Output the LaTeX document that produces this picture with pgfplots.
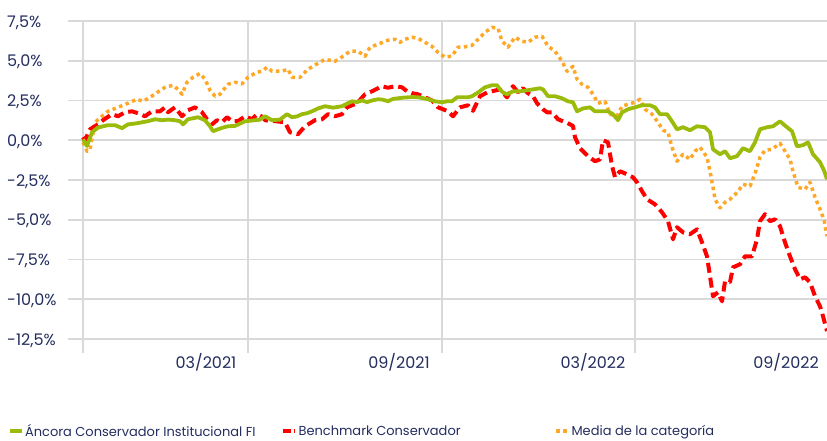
\documentclass[border=0pt]{standalone}
\usepackage{pgfplots}
\pgfplotsset{compat=1.18}
\usepackage{fontspec}
\setmainfont{Poppins}
\definecolor{txt}{RGB}{35,45,95}
\definecolor{gridc}{RGB}{217,217,217}
\definecolor{cgreen}{RGB}{155,187,10}
\definecolor{cred}{RGB}{255,0,0}
\definecolor{corange}{RGB}{255,168,40}
\begin{document}
\begin{tikzpicture}
\begin{axis}[
  scale only axis, width=759pt, height=332pt,
  xmin=68, xmax=827, ymin=-13.38, ymax=7.5,
  axis line style={draw=none},
  tick style={draw=none},
  xtick={83,248,442,635}, xticklabels={},
  extra x ticks={206,399,593,786},
  extra x tick labels={03/2021,09/2021,03/2022,09/2022},
  extra x tick style={grid=none},
  ytick={-12.5,-10,-7.5,-5,-2.5,0,2.5,5,7.5},
  yticklabels={{-12,5\%},{-10,0\%},{-7,5\%},{-5,0\%},{-2,5\%},{0,0\%},{2,5\%},{5,0\%},{7,5\%}},
  xmajorgrids, ymajorgrids,
  grid style={gridc, line width=1.8pt},
  yticklabel style={anchor=base west, xshift=-61pt, yshift=-6pt, inner sep=0pt, font=\fontsize{16}{19}\selectfont, text=txt},
  xticklabel style={anchor=base, yshift=-15pt, inner sep=0pt, font=\fontsize{16}{19}\selectfont, text=txt},
  legend columns=3,
  legend cell align=left,
  legend image code/.code={\draw[#1] (0pt,0pt) -- (12pt,0pt);},
  legend style={at={(axis description cs:-0.0790,-0.2355)}, anchor=west, draw=none, fill=none,
    inner sep=0pt, outer sep=0pt, column sep=0pt, font=\fontsize{13}{15}\selectfont, text=txt,
    nodes={inner sep=0pt}},
]
\addlegendimage{cgreen, line width=3.5pt}
\addlegendentry{\hspace*{1.5pt}\makebox[256pt][l]{Áncora Conservador Institucional FI}}
\addlegendimage{cred, line width=4pt, dash pattern=on 8pt off 3pt}
\addlegendentry{\hspace*{1.5pt}\makebox[256pt][l]{Benchmark Conservador}}
\addlegendimage{corange, line width=3.5pt, dash pattern=on 3.5pt off 3.5pt}
\addlegendentry{\hspace*{1.5pt}Media de la categoría}

% Media de la categoria
\addplot[forget plot, corange, line width=3.5pt, dash pattern=on 3.5pt off 3.5pt, line join=round] coordinates {
(83,-0.13) (87,-0.69) (90,-0.6) (95,1.13) (102,1.51) (108,1.82) (118,2.07) (128,2.33) (137,2.58) (143,2.45)
(150,2.7) (157,3.0) (165,3.33) (173,3.46) (178,3.2) (182,2.89) (187,3.65) (193,3.96) (200,4.2) (205,3.84)
(210,3.14) (215,2.77) (220,2.89) (223,3.14) (228,3.52) (235,3.65) (242,3.55) (248,3.96) (257,4.28) (262,4.34)
(267,4.59) (272,4.34) (282,4.34) (288,4.47) (292,3.96) (300,3.96) (308,4.47) (318,4.84) (325,5.09) (335,4.97)
(343,5.28) (350,5.6) (358,5.6) (365,5.28) (370,5.85) (378,6.04) (388,6.29) (395,6.35) (400,6.16) (405,6.35)
(412,6.48) (418,6.41) (425,6.16) (432,5.91) (438,5.53) (445,5.22) (452,5.3) (458,5.85) (463,5.85) (472,5.97)
(478,6.35) (485,6.79) (492,7.1) (498,7.04) (502,6.23) (508,5.85) (515,6.48) (522,6.23) (528,6.16) (535,6.48)
(542,6.54) (548,5.91) (555,5.6) (562,4.97) (567,4.34) (573,4.65) (577,3.84) (582,3.52) (588,3.33) (593,2.89)
(598,2.33) (605,2.45) (610,1.64) (617,1.51) (622,2.14) (628,2.26) (635,2.39) (640,2.58) (645,1.95) (652,1.64)
(658,1.13) (663,0.63) (668,0.5) (672,-0.44) (677,-1.32) (683,-0.88) (690,-1.2) (695,-0.69) (700,-0.44) (707,-1.07)
(710,-1.95) (713,-2.96) (715,-3.71) (720,-4.25) (725,-3.9) (730,-3.71) (737,-3.3) (743,-2.77) (750,-2.89) (755,-2.1)
(760,-1.07) (765,-0.63) (772,-0.57) (780,-0.19) (785,-0.69) (790,-1.2) (793,-1.95) (798,-2.96) (805,-3.08) (810,-2.64)
(815,-3.58) (820,-4.34) (824,-5.0) (827,-6.04)
};
% Benchmark Conservador
\addplot[forget plot, cred, line width=4pt, dash pattern=on 10pt off 5pt, line join=round] coordinates {
(83,0.19) (85,0.0) (90,0.69) (98,1.0) (103,1.26) (112,1.64) (118,1.51) (125,1.76) (132,1.82) (138,1.7)
(145,1.51) (152,1.82) (160,1.82) (165,2.07) (168,1.76) (175,2.07) (182,1.51) (188,1.89) (195,2.07) (202,1.76)
(207,1.32) (212,1.0) (217,1.26) (222,1.13) (227,1.45) (232,1.19) (238,1.2) (245,1.51) (252,1.32) (257,1.64)
(263,1.45) (265,1.26) (275,1.2) (285,1.13) (290,0.5) (298,0.38) (305,0.88) (315,1.26) (322,1.32) (328,1.64)
(335,1.51) (342,1.64) (347,2.07) (352,2.2) (357,2.33) (365,2.89) (372,3.08) (382,3.4) (388,3.3) (395,3.4)
(402,3.33) (407,3.08) (412,2.96) (418,2.89) (425,2.7) (432,2.5) (438,2.07) (443,1.95) (448,1.82) (453,1.51)
(460,2.07) (468,2.2) (473,1.85) (480,2.77) (487,3.0) (492,3.08) (500,3.2) (507,2.7) (513,3.4) (518,3.02)
(523,3.27) (528,2.96) (533,2.77) (537,2.33) (543,1.95) (547,1.76) (552,1.76) (558,1.32) (563,1.19) (567,1.1)
(573,0.9) (575,0.19) (580,-0.5) (583,-0.69) (588,-1.0) (595,-1.32) (600,-1.2) (603,0.0) (608,-0.13) (612,-1.6)
(615,-2.33) (620,-1.95) (627,-2.14) (633,-2.33) (637,-2.64) (642,-3.2) (647,-3.71) (655,-4.03) (662,-4.53) (668,-5.09)
(673,-6.23) (677,-5.47) (683,-5.79) (690,-5.91) (697,-5.6) (702,-6.42) (707,-7.3) (710,-8.55) (713,-9.81) (718,-9.56)
(722,-10.13) (725,-8.87) (730,-8.93) (733,-7.99) (740,-7.8) (745,-7.3) (752,-7.3) (757,-6.23) (760,-5.09) (765,-4.65)
(770,-5.09) (775,-4.97) (780,-5.41) (785,-6.42) (790,-7.3) (795,-8.11) (800,-8.74) (805,-8.62) (810,-8.93) (815,-9.81)
(820,-10.44) (823,-11.07) (827,-12.0)
};
% Ancora Conservador Institucional FI
\addplot[forget plot, cgreen, line width=3.8pt, line join=round] coordinates {
(83,0.06) (87,-0.36) (92,0.5) (98,0.8) (108,0.95) (115,0.95) (122,0.76) (128,1.0) (135,1.05) (142,1.13)
(148,1.2) (155,1.32) (162,1.26) (168,1.3) (175,1.26) (180,1.2) (183,1.0) (188,1.32) (198,1.45) (205,1.26)
(210,0.88) (213,0.57) (218,0.69) (223,0.8) (228,0.88) (235,0.9) (240,1.05) (245,1.19) (255,1.26) (260,1.3)
(265,1.51) (272,1.26) (280,1.3) (287,1.64) (292,1.45) (297,1.5) (302,1.64) (307,1.7) (312,1.82) (318,2.0)
(325,2.14) (333,2.05) (342,2.14) (347,2.3) (352,2.45) (357,2.4) (362,2.5) (367,2.4) (372,2.5) (378,2.58)
(383,2.55) (388,2.45) (393,2.6) (398,2.64) (403,2.68) (408,2.7) (413,2.72) (418,2.7) (423,2.65) (428,2.58)
(435,2.45) (442,2.39) (447,2.45) (452,2.45) (457,2.7) (463,2.7) (468,2.7) (472,2.77) (478,3.0) (485,3.33)
(492,3.46) (497,3.46) (500,3.2) (503,3.0) (507,2.89) (513,3.08) (520,3.08) (527,3.14) (533,3.2) (540,3.27)
(543,3.2) (548,2.77) (555,2.77) (562,2.64) (568,2.45) (573,2.39) (577,1.82) (583,2.0) (590,2.07) (595,1.82)
(602,1.82) (608,1.82) (613,1.64) (618,1.26) (622,1.76) (628,1.95) (635,2.07) (642,2.2) (650,2.2) (655,2.07)
(660,1.64) (667,1.64) (672,1.19) (677,0.69) (683,0.82) (690,0.63) (697,0.88) (705,0.82) (710,0.5) (713,-0.57)
(720,-0.88) (725,-0.69) (730,-1.13) (737,-1.0) (743,-0.5) (750,-0.69) (755,-0.13) (760,0.69) (767,0.82) (773,0.88)
(780,1.19) (787,0.82) (792,0.57) (797,-0.38) (803,-0.31) (808,-0.13) (813,-0.88) (820,-1.38) (824,-1.9) (827,-2.45)
};
\end{axis}
\pgfresetboundingbox
\path (-68pt,-87pt) rectangle (759pt,353pt);
\end{tikzpicture}
\end{document}
